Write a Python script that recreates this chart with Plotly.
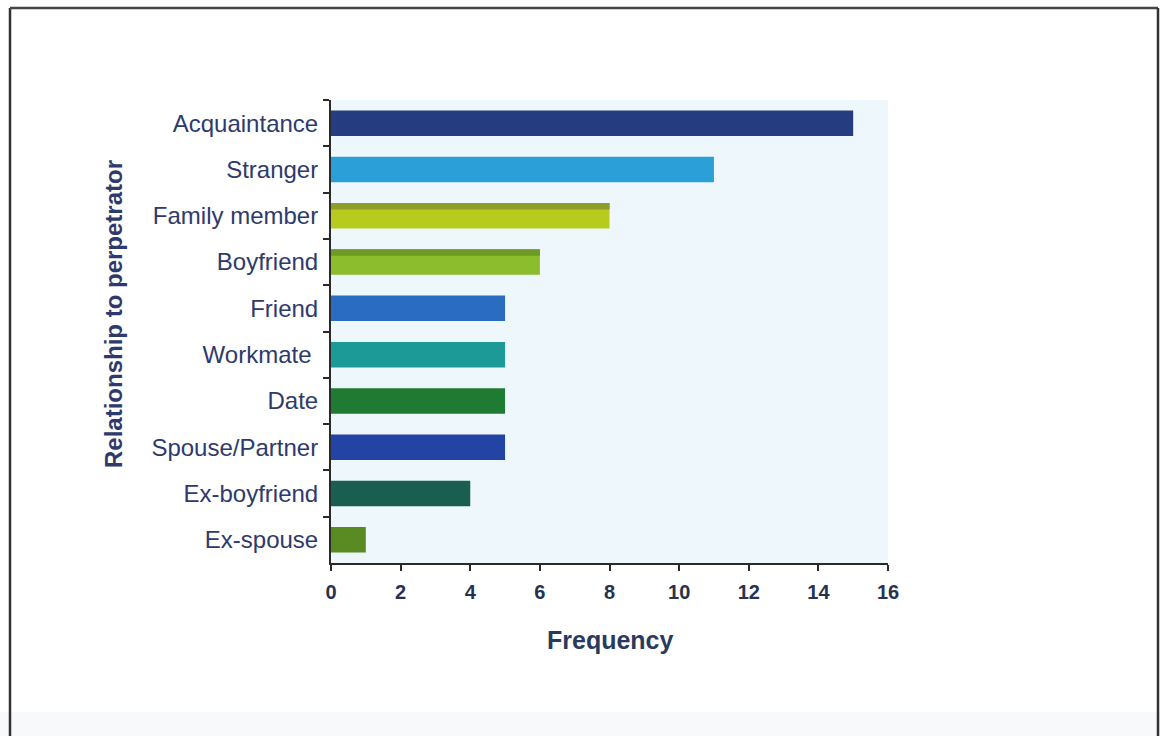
import plotly.graph_objects as go

# Data: frequency of each relationship to perpetrator
categories = ["Acquaintance", "Stranger", "Family member", "Boyfriend", "Friend",
              "Workmate\u00a0", "Date", "Spouse/Partner", "Ex-boyfriend", "Ex-spouse"]
frequency = [15, 11, 8, 6, 5, 5, 5, 5, 4, 1]
bar_colors = ["#253c80", "#2a9fd8", "#b6cb1e", "#8bbd2c", "#2a6cc2",
              "#1b9a98", "#1f7a32", "#2344a4", "#1a5e52", "#5a8a22"]

# Two of the bars carry a darker band along their upper edge
banded = ["Family member", "Boyfriend"]
band_colors = ["#8e9c28", "#6c9a22"]
band_values = [frequency[categories.index(c)] for c in banded]

W, H = 1160, 736
L, R, T, B = 331, 888, 100, 563          # plot area in pixels
pw, ph = R - L, B - T


def px(x):
    return (x - L) / pw


def py(y):
    return (B - y) / ph


text_col = "#2e3a6c"
axis_col = "#2a2a2a"
FONT = "Liberation Sans, Arial, sans-serif"

fig = go.Figure()
fig.add_trace(go.Bar(
    x=frequency, y=categories, orientation="h",
    marker=dict(color=bar_colors, line=dict(width=0)),
    width=0.55, hoverinfo="x+y", showlegend=False,
))
fig.add_trace(go.Bar(
    x=band_values, y=banded, orientation="h",
    marker=dict(color=band_colors, line=dict(width=0)),
    width=0.14, offset=-0.275, hoverinfo="skip", showlegend=False,
))

shapes = [
    # faint grey strip along the bottom of the page
    dict(type="rect", xref="paper", yref="paper", x0=px(0), x1=px(W),
         y0=py(736), y1=py(712), fillcolor="#f8f9fb", line=dict(width=0), layer="below"),
    # outer frame (left, top, right)
    dict(type="line", xref="paper", yref="paper", x0=px(10), x1=px(10),
         y0=py(8), y1=py(740), line=dict(color="#333333", width=2.5)),
    dict(type="line", xref="paper", yref="paper", x0=px(10), x1=px(1158),
         y0=py(8), y1=py(8), line=dict(color="#444444", width=2.5)),
    dict(type="line", xref="paper", yref="paper", x0=px(1158), x1=px(1158),
         y0=py(8), y1=py(740), line=dict(color="#333333", width=2.5)),
]

annotations = [
    dict(text="<b>Frequency</b>", xref="paper", yref="paper",
         x=px(610), y=py(640), showarrow=False, xanchor="center", yanchor="middle",
         font=dict(family=FONT, size=25, color="#2a3a5e")),
    dict(text="<b>Relationship to perpetrator</b>", xref="paper", yref="paper",
         x=px(113), y=py(314), showarrow=False, xanchor="center", yanchor="middle",
         textangle=-90, font=dict(family=FONT, size=24, color=text_col)),
]

fig.update_layout(
    width=W, height=H,
    margin=dict(l=L, r=W - R, t=T, b=H - B, pad=0),
    paper_bgcolor="#ffffff",
    plot_bgcolor="#eef7fb",
    barmode="overlay",
    shapes=shapes,
    annotations=annotations,
    font=dict(family=FONT, color=text_col),
)

fig.update_xaxes(
    range=[0, 16], dtick=2, tick0=0,
    showgrid=False, zeroline=False,
    showline=True, linecolor=axis_col, linewidth=2,
    ticks="outside", ticklen=6, tickwidth=2, tickcolor=axis_col,
    tickfont=dict(family=FONT, size=20, color="#28324e", weight="bold"),
    ticklabelstandoff=4,
)
fig.update_yaxes(
    categoryorder="array", categoryarray=categories,
    autorange="reversed",
    tickson="boundaries",
    showgrid=False, zeroline=False,
    showline=True, linecolor=axis_col, linewidth=2,
    ticks="outside", ticklen=6, tickwidth=2, tickcolor=axis_col,
    tickfont=dict(family=FONT, size=24, color=text_col),
    ticklabelstandoff=6,
)

fig.write_html("out.html")
